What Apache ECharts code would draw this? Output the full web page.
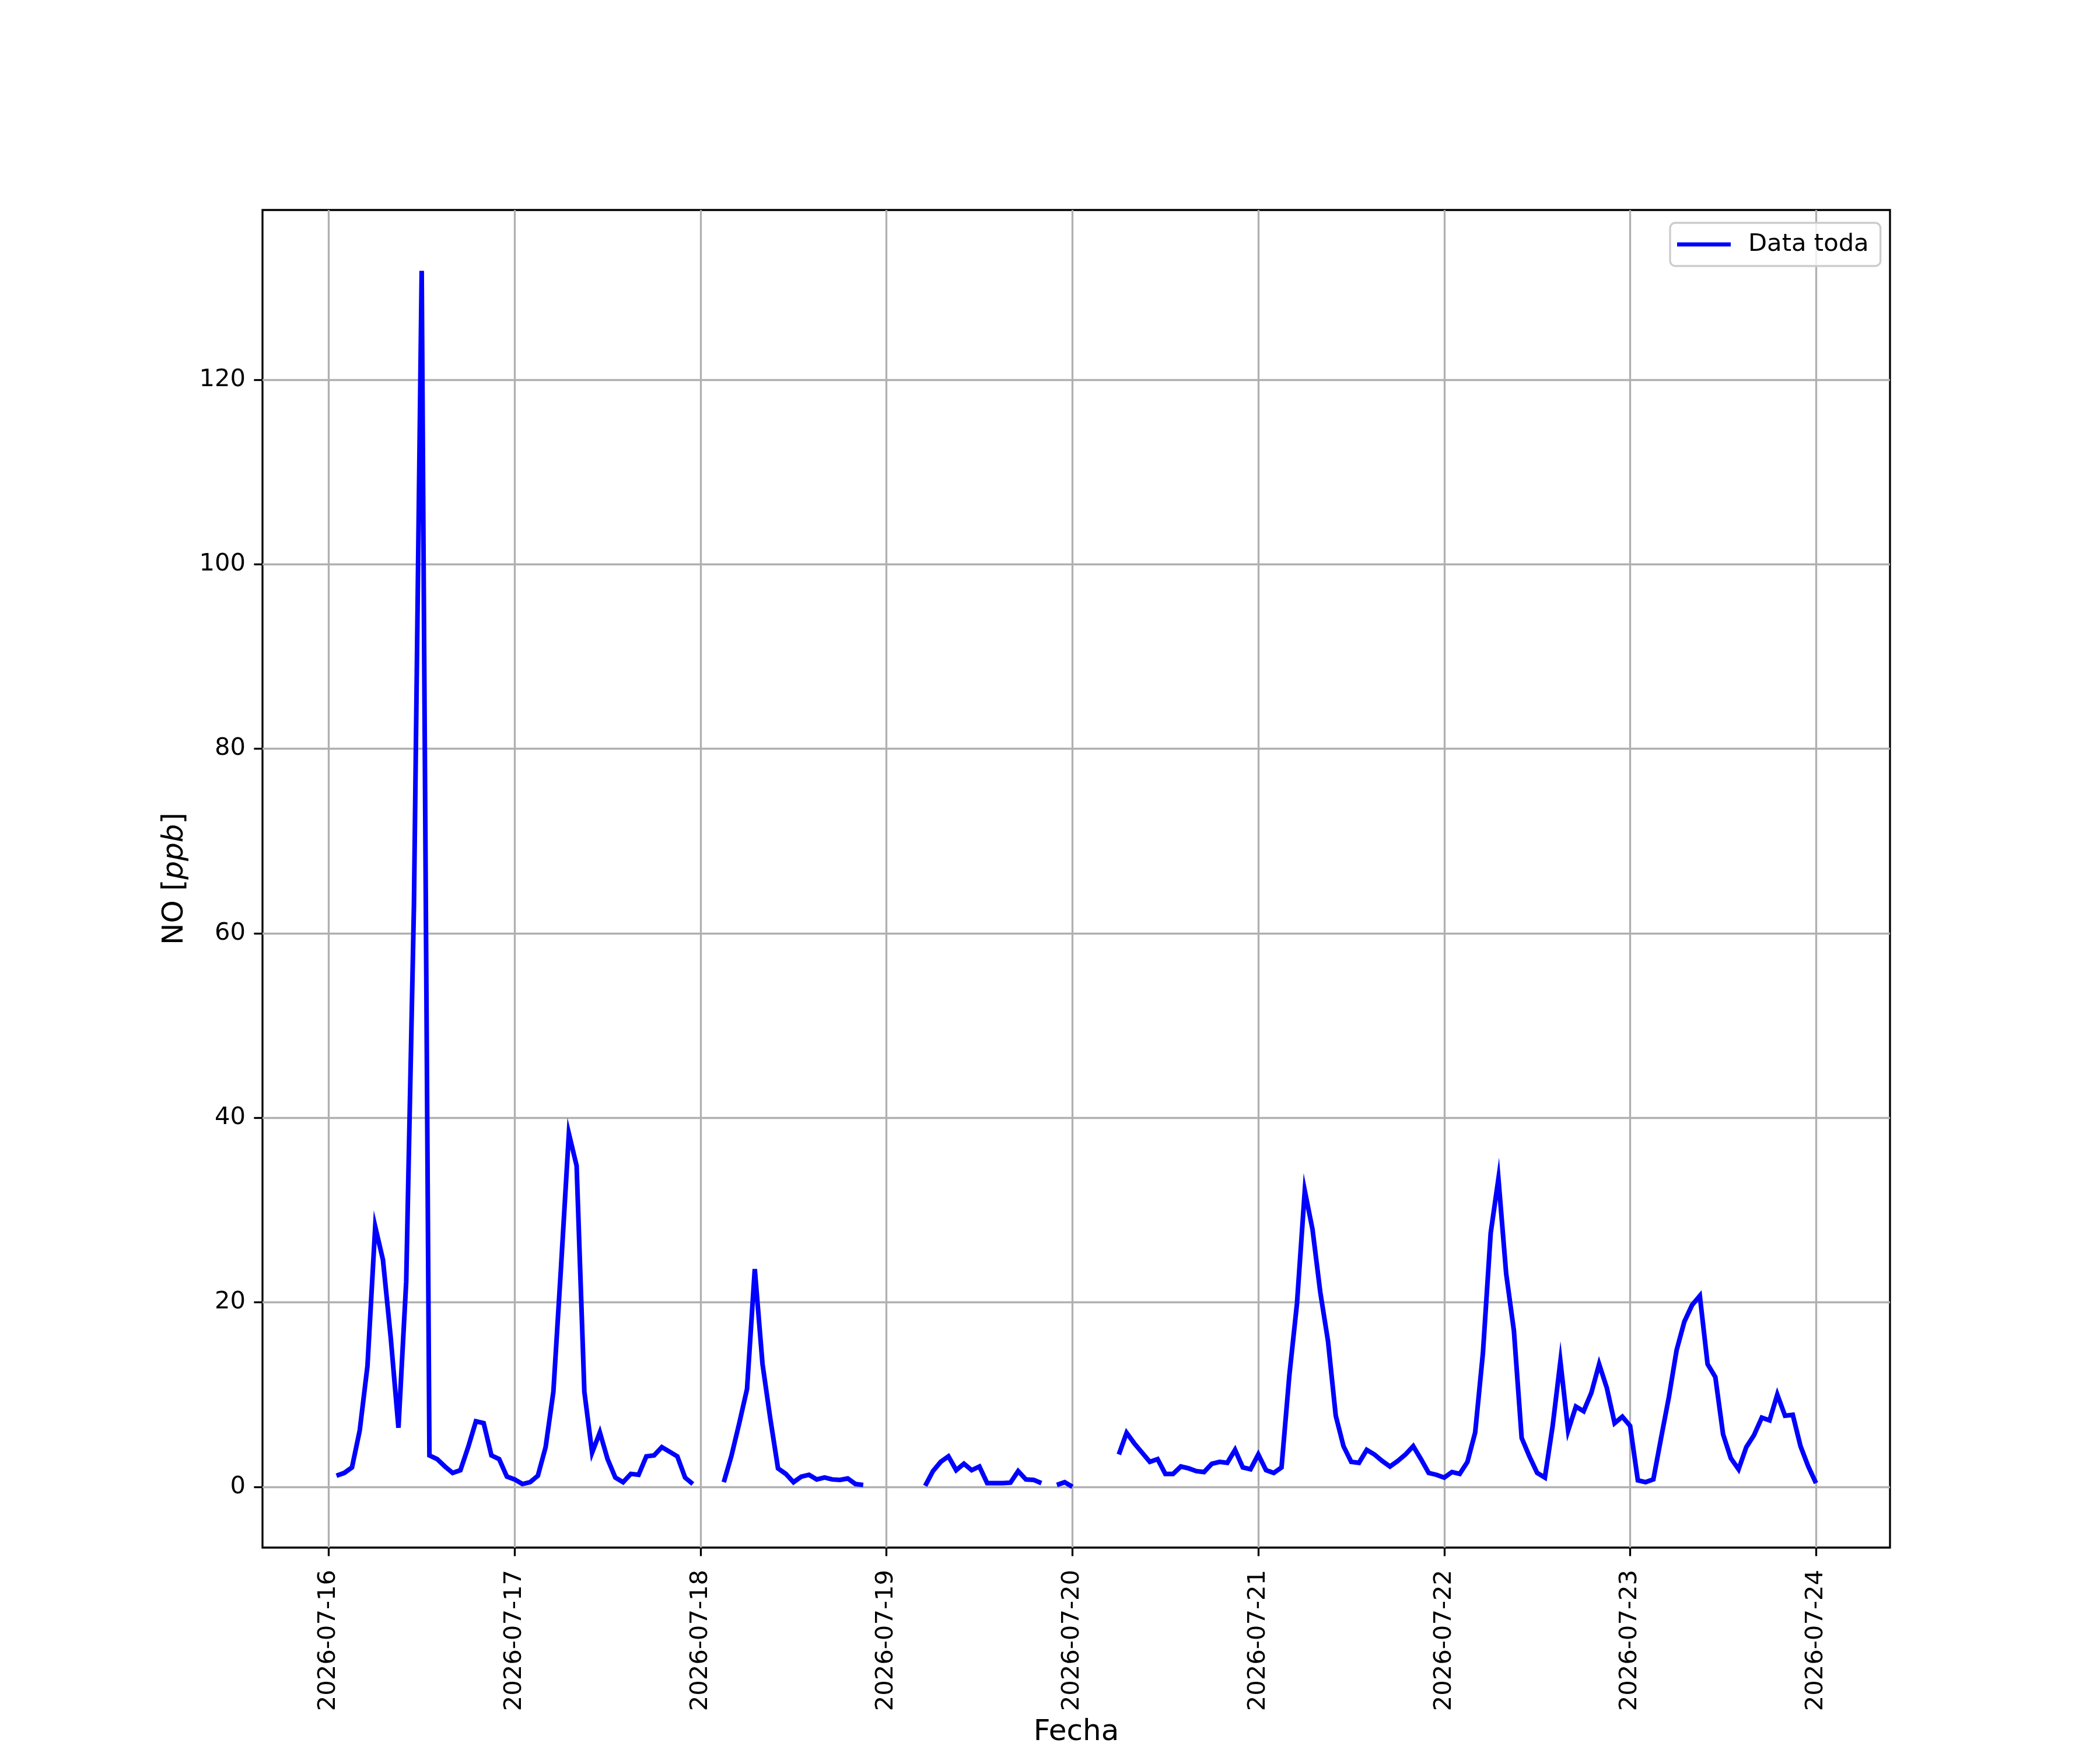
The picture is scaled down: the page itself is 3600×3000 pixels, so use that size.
<!DOCTYPE html>
<html>
<head>
<meta charset="utf-8">
<script src="https://cdn.jsdelivr.net/npm/echarts@6/dist/echarts.min.js"></script>
<style>
  html, body { margin: 0; padding: 0; background: #ffffff; }
  #chart { width: 3600px; height: 3000px; }
</style>
</head>
<body>
<div id="chart"></div>
<script>
// Hourly NO values (ppb); each day array holds hours 00..23, null = missing
const day16 = [null, 1.2, 1.5, 2.1, 6.1, 13.1, 28.2, 24.6, 16.2, 6.4, 22.2, 63.0, 131.8, 3.4, 3.0, 2.2, 1.5, 1.8, 4.3, 7.1, 6.9, 3.4, 3.0, 1.1];
const day17 = [0.8, 0.3, 0.5, 1.2, 4.3, 10.3, 24.0, 38.3, 34.8, 10.3, 3.7, 5.9, 3.0, 1.0, 0.5, 1.4, 1.3, 3.3, 3.4, 4.3, 3.8, 3.3, 1.0, 0.3];
const day18 = [null, null, null, 0.5, 3.4, 6.9, 10.6, 23.6, 13.3, 7.4, 2.0, 1.4, 0.5, 1.1, 1.3, 0.8, 1.0, 0.8, 0.75, 0.9, 0.3, 0.2, null, null];
const day19 = [null, null, null, null, null, 0.1, 1.7, 2.7, 3.3, 1.8, 2.5, 1.8, 2.2, 0.4, 0.4, 0.4, 0.45, 1.7, 0.8, 0.75, 0.4, null, 0.2, 0.5];
const day20 = [0.0, null, null, null, null, null, 3.5, 5.85, 4.7, 3.7, 2.7, 3.0, 1.4, 1.4, 2.2, 2.0, 1.7, 1.6, 2.5, 2.7, 2.6, 4.0, 2.1, 1.9];
const day21 = [3.5, 1.8, 1.5, 2.1, 12.0, 19.9, 32.1, 27.9, 21.1, 15.8, 7.7, 4.4, 2.7, 2.6, 4.0, 3.5, 2.8, 2.2, 2.8, 3.5, 4.4, 3.0, 1.5, 1.3];
const day22 = [1.0, 1.6, 1.4, 2.7, 5.9, 14.5, 27.5, 33.4, 23.1, 16.9, 5.3, 3.3, 1.5, 1.0, 6.6, 13.6, 6.1, 8.7, 8.2, 10.2, 13.3, 10.7, 6.9, 7.6];
const day23 = [6.6, 0.7, 0.5, 0.8, 5.3, 9.7, 14.8, 17.9, 19.7, 20.7, 13.3, 11.9, 5.7, 3.1, 1.9, 4.3, 5.6, 7.5, 7.2, 10.0, 7.7, 7.8, 4.4, 2.2];
const day24 = [0.4];

const dayLabels = ['2026-07-16', '2026-07-17', '2026-07-18', '2026-07-19', '2026-07-20', '2026-07-21', '2026-07-22', '2026-07-23', '2026-07-24'];
const yTicks = [0, 20, 40, 60, 80, 100, 120];
const seriesName = 'Data toda';

// x = hours since 2026-07-16 00:00
const days = [day16, day17, day18, day19, day20, day21, day22, day23, day24];
const points = [];
days.forEach((arr, d) => {
  arr.forEach((v, h) => {
    const x = d * 24 + h;
    if (x < 1) return; // record starts at 01:00
    points.push([x, v === null ? null : v]);
  });
});
const xTicks = dayLabels.map((_, i) => i * 24);

const fontFamily = 'DejaVu Sans';
const chart = echarts.init(document.getElementById('chart'), null, { renderer: 'canvas', devicePixelRatio: 1 });
chart.setOption({
  animation: false,
  backgroundColor: '#ffffff',
  grid: {
    left: 450, top: 360, width: 2790, height: 2330,
    show: true, borderColor: '#000000', borderWidth: 3.3, backgroundColor: 'transparent'
  },
  legend: {
    data: [seriesName],
    left: 2863, top: 382,
    padding: [16, 20, 16, 12],
    icon: 'rect',
    itemWidth: 92, itemHeight: 7,
    borderColor: '#cccccc', borderWidth: 3.3, borderRadius: 9,
    backgroundColor: 'rgba(255,255,255,0.8)',
    textStyle: { fontFamily: fontFamily, fontSize: 41.7, color: '#000000', padding: [0, 0, 0, 25] }
  },
  xAxis: {
    type: 'value',
    min: -8.55, max: 201.55,
    name: 'Fecha',
    nameLocation: 'middle',
    nameGap: 292,
    nameTextStyle: { fontFamily: fontFamily, fontSize: 50, color: '#000000', verticalAlign: 'top' },
    axisLine: { show: false, onZero: false },
    axisTick: { show: true, inside: false, length: 14.6, lineStyle: { color: '#000000', width: 3.3 }, customValues: xTicks },
    axisLabel: {
      show: true, rotate: 90, margin: 38,
      fontFamily: fontFamily, fontSize: 41.7, color: '#000000',
      customValues: xTicks,
      formatter: v => dayLabels[Math.round(v / 24)]
    },
    splitLine: { show: true, lineStyle: { color: '#b0b0b0', width: 3.3 } }
  },
  yAxis: {
    type: 'value',
    min: -6.59, max: 138.4,
    name: '{n|NO [}{i|ppb}{n|]}',
    nameLocation: 'middle',
    nameRotate: 90,
    nameGap: 125,
    nameTextStyle: {
      fontFamily: fontFamily, fontSize: 50, color: '#000000',
      rich: {
        n: { fontFamily: fontFamily, fontSize: 50, color: '#000000' },
        i: { fontFamily: fontFamily, fontSize: 50, color: '#000000', fontStyle: 'italic' }
      }
    },
    axisLine: { show: false, onZero: false },
    axisTick: { show: true, inside: false, length: 14.6, lineStyle: { color: '#000000', width: 3.3 }, customValues: yTicks },
    axisLabel: {
      show: true, margin: 29,
      fontFamily: fontFamily, fontSize: 41.7, color: '#000000',
      customValues: yTicks
    },
    splitLine: { show: true, lineStyle: { color: '#b0b0b0', width: 3.3 } }
  },
  series: [{
    name: seriesName,
    type: 'line',
    data: points,
    showSymbol: false,
    connectNulls: false,
    lineStyle: { color: '#0000ff', width: 8, join: 'miter' },
    itemStyle: { color: '#0000ff' },
    z: 3
  }]
});
</script>
</body>
</html>
